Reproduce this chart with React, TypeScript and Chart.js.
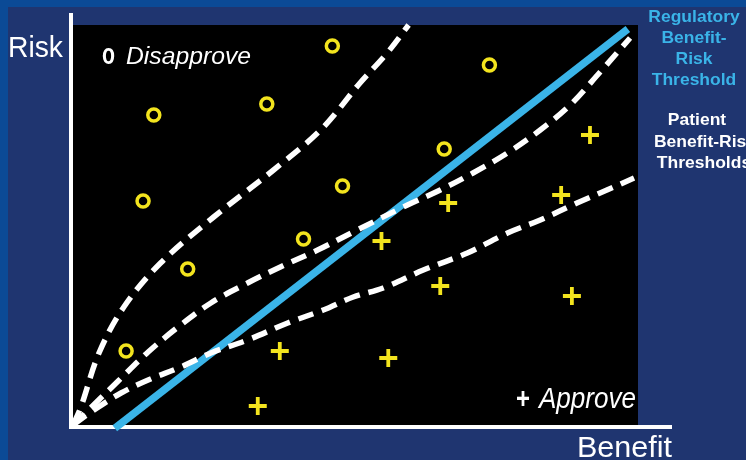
import React, { useEffect, useRef } from "react";
import { Chart, registerables } from "chart.js";

Chart.register(...registerables);

// Disapprove markers ("o")
const disapproveX = [45.9, 73.7, 14.3, 34.3, 12.4, 47.7, 65.7, 40.8, 20.3, 9.4];
const disapproveY = [94.75, 90, 77.5, 80.25, 56, 59.75, 69, 46.5, 39, 18.5];

// Approve markers ("+")
const approveX = [91.5, 66.4, 86.4, 54.6, 65, 88.3, 36.6, 55.8, 32.7];
const approveY = [72.5, 55.5, 57.5, 46, 34.75, 32.25, 18.5, 16.75, 4.75];

// Regulatory benefit-risk threshold (solid cyan)
const regulatoryX = [7.4, 98.2];
const regulatoryY = [-0.8, 99];

// Patient benefit-risk thresholds (dashed white)
const patientAX = [0, 1.4, 4.6, 9, 15.5, 24.9, 35.5, 44, 50.8, 55.6, 59.4];
const patientAY = [0, 4.5, 18, 29.5, 40.5, 52, 63.75, 74, 85.5, 93, 100];
const patientBX = [0, 4, 8, 13.3, 18.6, 24.4, 30.9, 36.7, 43.3, 49.6, 59.2, 65, 70.8, 76.9, 82.7, 88, 93.3, 98.6];
const patientBY = [0, 5.5, 11, 18.25, 24.5, 30.5, 35.5, 39.5, 43.75, 48.25, 55, 58.75, 63, 68, 73.75, 80, 88.25, 96.75];
const patientCX = [0, 3.7, 8.5, 13.3, 19.1, 24.4, 30.9, 38, 44.3, 49.6, 54.9, 62, 69.8, 76.9, 82.7, 89.2, 94.5, 99.3];
const patientCY = [0, 3.75, 8, 11.25, 14.5, 18, 21.25, 25.5, 28.75, 32, 34.25, 38.75, 43, 48, 51.25, 55.5, 58.75, 61.75];

const yAxisLabel = "Risk";
const xAxisLabel = "Benefit";
const disapproveLabel = "Disapprove";
const approveLabel = "Approve";
const regulatoryLabel = ["Regulatory", "Benefit-", "Risk", "Threshold"];
const patientLabel = ["Patient", "Benefit-Risk", "Thresholds"];

const pts = (xs: number[], ys: number[]) => xs.map((x, i) => ({ x, y: ys[i] }));

const YELLOW = "#f3e41e";
const CYAN = "#3ab4e8";
const FONT = '"Liberation Sans", Arial, sans-serif';

function drawText(
  ctx: CanvasRenderingContext2D,
  s: string,
  x: number,
  y: number,
  font: string,
  color: string,
  align: CanvasTextAlign,
  sx: number
) {
  ctx.save();
  ctx.font = font;
  ctx.fillStyle = color;
  ctx.textAlign = align;
  ctx.textBaseline = "alphabetic";
  ctx.translate(x, y);
  ctx.scale(sx, 1);
  ctx.fillText(s, 0, 0);
  ctx.restore();
}

function fitText(
  ctx: CanvasRenderingContext2D,
  s: string,
  x: number,
  y: number,
  font: string,
  color: string,
  width: number
) {
  ctx.save();
  ctx.font = font;
  const w = ctx.measureText(s).width;
  ctx.restore();
  drawText(ctx, s, x, y, font, color, "left", width / w);
}

const backdrop = {
  id: "backdrop",
  beforeDraw(chart: any) {
    const { ctx, chartArea } = chart;
    ctx.save();
    ctx.fillStyle = "#1f3570";
    ctx.fillRect(0, 0, chart.width, chart.height);
    ctx.fillStyle = "#0b4a96";
    ctx.fillRect(0, 0, chart.width, 7);
    ctx.fillRect(0, 0, 8, chart.height);
    ctx.fillStyle = "#000000";
    ctx.fillRect(chartArea.left, chartArea.top, chartArea.right - chartArea.left, chartArea.bottom - chartArea.top);
    ctx.restore();
  },
  beforeDatasetsDraw(chart: any) {
    const { ctx, chartArea } = chart;
    ctx.save();
    ctx.fillStyle = "#ffffff";
    ctx.fillRect(chartArea.left - 4, 13, 4, chartArea.bottom + 4 - 13);
    ctx.fillRect(chartArea.left - 4, chartArea.bottom, 672 - (chartArea.left - 4), 4);
    ctx.restore();
  },
  afterDraw(chart: any) {
    const ctx = chart.ctx as CanvasRenderingContext2D;
    fitText(ctx, yAxisLabel, 8, 57, `30px ${FONT}`, "#ffffff", 55);
    fitText(ctx, xAxisLabel, 577, 457, `30px ${FONT}`, "#ffffff", 95);
    fitText(ctx, "o", 102, 64, `bold 30px ${FONT}`, "#ffffff", 13);
    fitText(ctx, disapproveLabel, 126, 64, `italic 23px ${FONT}`, "#ffffff", 125);
    fitText(ctx, "+", 516, 408, `bold 30px ${FONT}`, "#ffffff", 14);
    fitText(ctx, approveLabel, 539, 408, `italic 29px ${FONT}`, "#ffffff", 97);
    const regY = [22, 43, 64, 85];
    regulatoryLabel.forEach((s, i) =>
      drawText(ctx, s, 694, regY[i], `bold 16.5px ${FONT}`, CYAN, "center", 1.06)
    );
    const patY = [125, 147, 168];
    const patX = [697, 705, 704];
    patientLabel.forEach((s, i) =>
      drawText(ctx, s, patX[i], patY[i], `bold 16.5px ${FONT}`, "#ffffff", "center", 1.06)
    );
  },
};

export default function App() {
  const ref = useRef<HTMLCanvasElement | null>(null);
  useEffect(() => {
    document.body.style.margin = "0";
    if (!ref.current) return;
    const dashed = (xs: number[], ys: number[]) => ({
      data: pts(xs, ys),
      showLine: true,
      borderColor: "#ffffff",
      borderWidth: 5.5,
      borderDash: [16, 9],
      borderCapStyle: "butt" as const,
      pointRadius: 0,
      tension: 0.35,
      fill: false,
      clip: false as const,
      order: 1,
    });
    const chart = new Chart(ref.current, {
      type: "scatter",
      data: {
        datasets: [
          {
            data: pts(disapproveX, disapproveY),
            pointStyle: "circle",
            pointRadius: 6,
            pointBorderWidth: 3.5,
            pointBorderColor: YELLOW,
            pointBackgroundColor: "rgba(0,0,0,0)",
            order: 0,
          } as any,
          {
            data: pts(approveX, approveY),
            pointStyle: "cross",
            pointRadius: 9,
            pointBorderWidth: 3.8,
            pointBorderColor: YELLOW,
            pointBackgroundColor: YELLOW,
            order: 0,
          } as any,
          dashed(patientAX, patientAY) as any,
          dashed(patientBX, patientBY) as any,
          dashed(patientCX, patientCY) as any,
          {
            data: pts(regulatoryX, regulatoryY),
            showLine: true,
            borderColor: CYAN,
            borderWidth: 7.5,
            pointRadius: 0,
            clip: false,
            order: 2,
          } as any,
        ],
      },
      options: {
        animation: false,
        responsive: false,
        devicePixelRatio: 1,
        layout: { padding: { left: 73, right: 746 - 638, top: 25, bottom: 460 - 425 } },
        scales: {
          x: { type: "linear", min: 0, max: 100, display: false },
          y: { type: "linear", min: 0, max: 100, display: false },
        },
        plugins: { legend: { display: false }, tooltip: { enabled: false } },
        events: [],
      },
      plugins: [backdrop],
    });
    return () => chart.destroy();
  }, []);
  return (
    <div style={{ width: 746, height: 460 }}>
      <canvas ref={ref} width={746} height={460} style={{ display: "block" }} />
    </div>
  );
}
